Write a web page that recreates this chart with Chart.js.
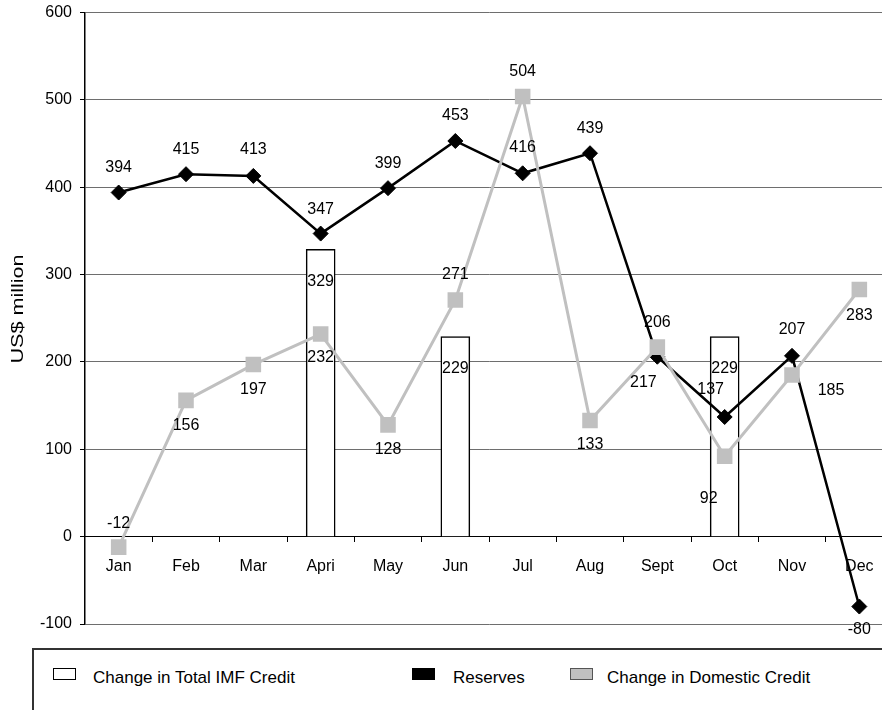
<!DOCTYPE html>
<html>
<head>
<meta charset="utf-8">
<title>Reserves and credit, monthly changes</title>
<script src="https://cdn.jsdelivr.net/npm/chart.js@4"></script>
<style>
  html, body { margin: 0; padding: 0; background: #fff; overflow: hidden; width: 882px; height: 710px; }
  #wrap { position: absolute; left: 0; top: -5px; width: 904px; height: 650px; }
  #legend {
    position: absolute; left: 32px; top: 648px; width: 900px; height: 100px;
    border-left: 2px solid #333; border-top: 2px solid #333;
    font-family: "Liberation Sans", Arial, sans-serif; font-size: 17px; color: #000;
  }
  .sw { position: absolute; top: 18px; width: 23px; height: 12px; box-sizing: border-box; }
  .lt { position: absolute; top: 18px; line-height: 20px; white-space: nowrap; }
</style>
</head>
<body>
<div id="wrap"><canvas id="chart" width="904" height="650"></canvas></div>
<div id="legend"></div>
<script>
// Monthly figures, US$ million
const months = ['Jan', 'Feb', 'Mar', 'Apri', 'May', 'Jun', 'Jul', 'Aug', 'Sept', 'Oct', 'Nov', 'Dec'];
const imfCredit = [null, null, null, 329, null, 229, null, null, null, 229, null, null];
const reserves = [394, 415, 413, 347, 399, 453, 416, 439, 206, 137, 207, -80];
const domesticCredit = [-12, 156, 197, 232, 128, 271, 504, 133, 217, 92, 185, 283];
const yRange = [-100, 600];
const yStep = 100;
const seriesNames = ['Change in Total IMF Credit', 'Reserves', 'Change in Domestic Credit'];
const yTitle = 'US$ million';

// Where each value label sits relative to its point (pixels)
const reserveLabelShift = [[0,-25],[0,-25],[0,-26],[0,-24],[0,-25],[0,-25],[0,-26],[0,-25],[0,-34],[-14,-27],[0,-26],[0,23]];
const domesticLabelShift = [[0,-24],[0,25],[0,25],[0,24],[0,25],[0,-25],[0,-25],[0,24],[-14,35],[-16,42],[39,16],[0,26]];
const barLabelDrop = 32;

const FONT = '"Liberation Sans", Arial, sans-serif';
const GREY = '#c0c0c0';
Chart.defaults.font.family = FONT;
Chart.defaults.color = '#000';

// Value labels next to points and inside bar tops
const valueLabels = {
  id: 'valueLabels',
  afterDatasetsDraw(chart) {
    const ctx = chart.ctx;
    ctx.save();
    ctx.font = '16px ' + FONT;
    ctx.fillStyle = '#000';
    ctx.textAlign = 'center';
    ctx.textBaseline = 'middle';
    chart.data.datasets.forEach((ds, di) => {
      const meta = chart.getDatasetMeta(di);
      meta.data.forEach((el, i) => {
        const v = ds.data[i];
        if (v === null || v === undefined) return;
        let dx = 0, dy = 0;
        if (ds.type === 'bar') {
          dy = barLabelDrop;
        } else {
          const s = ds.labelShift[i];
          dx = s[0]; dy = s[1];
        }
        ctx.fillText(String(v), el.x + dx, el.y + dy);
      });
    });
    ctx.restore();
  }
};

// Vertical axis title, stretched along its length
const axisTitle = {
  id: 'axisTitle',
  afterDraw(chart) {
    const ctx = chart.ctx;
    ctx.save();
    ctx.translate(19, 314);
    ctx.rotate(-Math.PI / 2);
    ctx.scale(1.35, 1);
    ctx.font = '16px ' + FONT;
    ctx.fillStyle = '#000';
    ctx.textAlign = 'center';
    ctx.textBaseline = 'middle';
    ctx.fillText(yTitle, 0, 0);
    ctx.restore();
  }
};

const chart = new Chart(document.getElementById('chart'), {
  type: 'bar',
  data: {
    labels: months,
    datasets: [
      {
        type: 'bar', label: seriesNames[0], data: imfCredit,
        backgroundColor: '#fff', borderColor: '#000', borderWidth: 1.5,
        barThickness: 29, order: 3
      },
      {
        type: 'line', label: seriesNames[1], data: reserves, labelShift: reserveLabelShift,
        borderColor: '#000', borderWidth: 2.5, tension: 0,
        pointStyle: 'rectRot', pointRadius: 7.5, pointBackgroundColor: '#000',
        pointBorderColor: '#000', pointBorderWidth: 1, order: 2
      },
      {
        type: 'line', label: seriesNames[2], data: domesticCredit, labelShift: domesticLabelShift,
        borderColor: GREY, borderWidth: 3, tension: 0,
        pointStyle: 'rect', pointRadius: 11, pointBackgroundColor: GREY,
        pointBorderColor: GREY, pointBorderWidth: 0, order: 1
      }
    ]
  },
  options: {
    responsive: false,
    animation: false,
    layout: { padding: { left: 0, top: 7, right: 2, bottom: 21 } },
    plugins: { legend: { display: false }, tooltip: { enabled: false } },
    scales: {
      x: {
        type: 'category',
        position: { y: 0 },
        offset: true,
        grid: { offset: true, drawOnChartArea: false, drawTicks: true, tickLength: 5, tickColor: '#000' },
        border: { color: '#000', width: 1 },
        ticks: { color: '#000', font: { size: 16 }, padding: 15, maxRotation: 0, autoSkip: false }
      },
      y: {
        min: yRange[0], max: yRange[1],
        ticks: { stepSize: yStep, color: '#000', font: { size: 16 }, padding: 8 },
        grid: {
          color: c => (c.tick && c.tick.value === 0) ? '#000' : '#6e6e6e',
          lineWidth: 1, tickColor: '#000', tickLength: 5
        },
        border: { color: '#000', width: 1.5 },
        afterFit(scale) { scale.width = 85; }
      }
    }
  },
  plugins: [valueLabels, axisTitle]
});

// Legend below the plot
const legend = document.getElementById('legend');
const legendItems = [
  { name: seriesNames[0], fill: '#fff', edge: '#000', box: 19, text: 59 },
  { name: seriesNames[1], fill: '#000', edge: '#000', box: 378, text: 419 },
  { name: seriesNames[2], fill: GREY, edge: '#555', box: 536, text: 573 }
];
legendItems.forEach(it => {
  const sw = document.createElement('span');
  sw.className = 'sw';
  sw.style.left = it.box + 'px';
  sw.style.background = it.fill;
  sw.style.border = '1px solid ' + it.edge;
  legend.appendChild(sw);
  const t = document.createElement('span');
  t.className = 'lt';
  t.style.left = it.text + 'px';
  t.textContent = it.name;
  legend.appendChild(t);
});
</script>
</body>
</html>
